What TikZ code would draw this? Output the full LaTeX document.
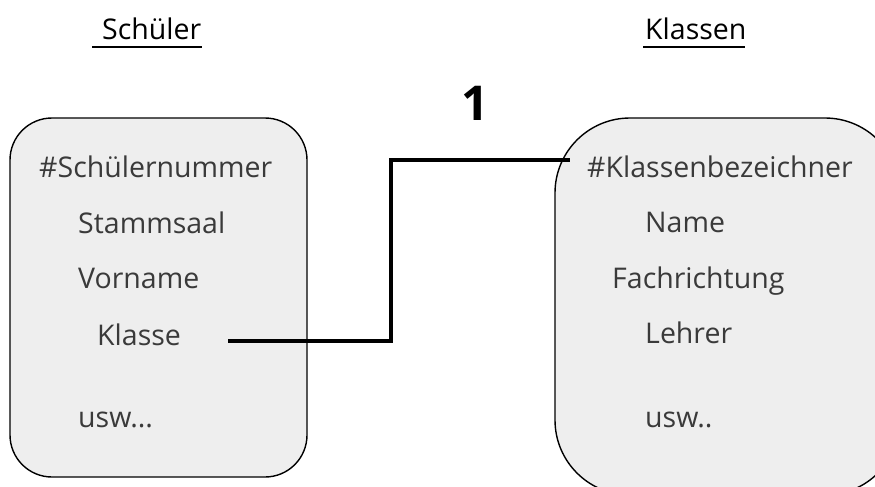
\documentclass[tikz,border=0pt]{standalone}
\usepackage{fontspec}
\setmainfont{Open Sans}
\definecolor{boxfill}{HTML}{EEEEEE}
\definecolor{txt}{HTML}{3A3A3A}
\begin{document}
\begin{tikzpicture}[x=1pt,y=-1pt,
  entity/.style={draw=black,line width=1.4pt,fill=boxfill},
  attr/.style={anchor=base west,inner sep=0pt,text=txt,font=\fontsize{28.5}{32}\selectfont},
  title/.style={anchor=base west,inner sep=0pt,text=black,font=\fontsize{28.5}{32}\selectfont},
  conn/.style={line width=4pt,line join=miter,draw=black}]
\useasboundingbox (0,0) rectangle (875,487);
\begin{scope}
\clip (0,0) rectangle (875,487);
\draw[entity,rounded corners=42pt] (10,118) rectangle (307,477);
\draw[entity,rounded corners=75pt] (555,118) rectangle (900,495);
\end{scope}
% titles
\node[title] (t1) at (102,40) {Schüler};
\node[title] (t2) at (645,40) {Klassen};
\draw[line width=2pt] (92,47) -- (202,47);
\draw[line width=2pt] (643,47) -- (745,47);
\node[anchor=base,inner sep=0pt,font=\fontsize{48}{52}\selectfont\bfseries] (one) at (475,120) {1};
% left attributes
\node[attr] (a1) at (39,177) {\#Schülernummer};
\node[attr] (a2) at (78,233) {Stammsaal};
\node[attr] (a3) at (78,288) {Vorname};
\node[attr] (a4) at (97,345) {Klasse};
\node[attr] (a5) at (78,427) {usw...};
% right attributes
\node[attr] (b1) at (587,177) {\#Klassenbezeichner};
\node[attr] (b2) at (645,232) {Name};
\node[attr] (b3) at (612,288) {Fachrichtung};
\node[attr] (b4) at (645,343) {Lehrer};
\node[attr] (b5) at (645,427) {usw..};
% connector
\coordinate (c1) at (228,341);
\coordinate (k1) at (391,341);
\coordinate (k2) at (391,160);
\coordinate (c2) at (570,160);
\draw[conn] (c1) -- (k1) -- (k2) -- (c2);
\end{tikzpicture}
\end{document}
